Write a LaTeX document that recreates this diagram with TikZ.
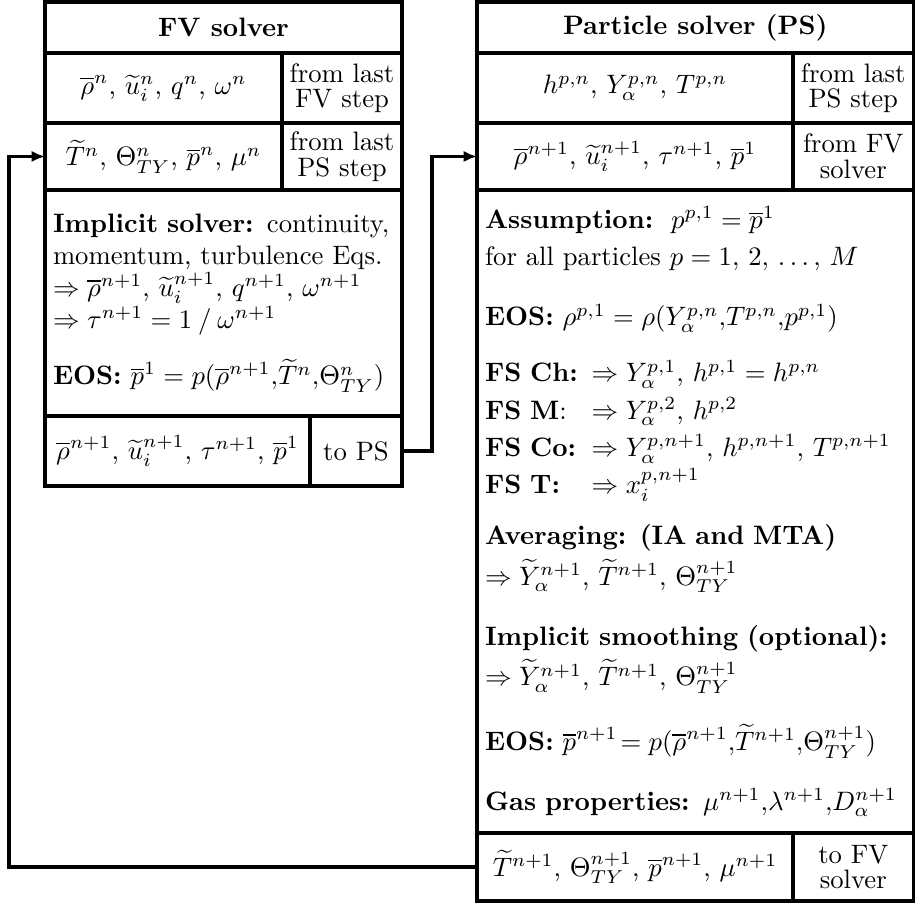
\documentclass[tikz,border=0pt]{standalone}
\usepackage{amsmath}
\usepackage{tikz}
\usetikzlibrary{arrows.meta}

\tikzset{
  cell/.style 2 args={draw, line width=1.3pt, anchor=north west, inner sep=0pt, outer sep=0pt,
    minimum width=#1*0.375pt, minimum height=#2*0.375pt, align=center},
  tag/.style={font=\linespread{0.8}\selectfont},
  body/.style={align=left, inner xsep=3pt, text width=#1*0.375pt-6pt},
  flow/.style={line width=1.3pt, -{Latex[length=5pt,width=4.2pt]}},
}
\newcommand{\fslabel}[1]{\makebox[40pt][l]{#1}}

\begin{document}
\begin{tikzpicture}[x=0.375pt, y=-0.375pt]
    \useasboundingbox (0,0) rectangle (915,907);
    % FV solver
    \node[cell={357}{51}] (fvhead) at (45,2) {\textbf{FV solver}};
    \node[cell={237}{70}] (fvin1) at (45,53) {$\overline{\rho}^n$, $\widetilde{u}_i^n$, $q^n$, $\omega^n$};
    \node[cell={120}{70}, tag] (fvsrc1) at (282,53) {from last\\FV step};
    \node[cell={237}{67}] (fvin2) at (45,123) {$\widetilde{T}^n$, $\Theta_{TY}^n$, $\overline{p}^n$, $\mu^n$};
    \node[cell={120}{67}, tag] (fvsrc2) at (282,123) {from last\\PS step};
    \node[cell={357}{226}, body=357] (fvbody) at (45,190) {%
      \textbf{Implicit solver:} continuity,\\
      momentum, turbulence Eqs.\\
      $\Rightarrow \overline{\rho}^{n+1}$, $\widetilde{u}_i^{n+1}$, $q^{n+1}$, $\omega^{n+1}$\\
      $\Rightarrow \tau^{n+1} = 1 \mathbin{/} \omega^{n+1}$\\[8pt]
      \textbf{EOS:} $\overline{p}^1 = p(\overline{\rho}^{n+1}{,}\widetilde{T}^n{,}\Theta_{TY}^n)$};
    \node[cell={265}{70}] (fvout) at (45,416) {$\overline{\rho}^{n+1}$, $\widetilde{u}_i^{n+1}$, $\tau^{n+1}$, $\overline{p}^1$};
    \node[cell={92}{70}] (fvdest) at (310,416) {to PS};

    % particle solver
    \node[cell={436.5}{51}] (pshead) at (477,2) {\textbf{Particle solver (PS)}};
    \node[cell={316}{70}] (psin1) at (477,53) {$h^{p,n}$, $Y_\alpha^{p,n}$, $T^{p,n}$};
    \node[cell={120.5}{70}, tag] (pssrc1) at (793,53) {from last\\PS step};
    \node[cell={316}{67}] (psin2) at (477,123) {$\overline{\rho}^{n+1}$, $\widetilde{u}_i^{n+1}$, $\tau^{n+1}$, $\overline{p}^1$};
    \node[cell={120.5}{67}, tag] (pssrc2) at (793,123) {from FV\\solver};
    \node[cell={436.5}{643}, body=436.5] (psbody) at (477,190) {%
      \textbf{Assumption:}\ \ $p^{p,1} = \overline{p}^1$\\[2pt]
      for all particles $p = 1,\,2,\,\ldots,\,M$\\[10.5pt]
      \textbf{EOS:} $\rho^{p,1} = \rho(Y_\alpha^{p,n}{,}T^{p,n}{,}p^{p,1})$\\[9pt]
      \fslabel{\textbf{FS Ch:}}$\Rightarrow Y_\alpha^{p,1}$, $h^{p,1} = h^{p,n}$\\[2pt]
      \fslabel{\textbf{FS M}:}$\Rightarrow Y_\alpha^{p,2}$, $h^{p,2}$\\[2pt]
      \fslabel{\textbf{FS Co:}}$\Rightarrow Y_\alpha^{p,n+1}$, $h^{p,n+1}$, $T^{p,n+1}$\\[2pt]
      \fslabel{\textbf{FS T:}}$\Rightarrow x_i^{p,n+1}$\\[7pt]
      \textbf{Averaging: (IA and MTA)}\\[2pt]
      $\Rightarrow \widetilde{Y}_\alpha^{n+1}$, $\widetilde{T}^{n+1}$, $\Theta_{TY}^{n+1}$\\[10.5pt]
      \textbf{Implicit smoothing (optional):}\\[2pt]
      $\Rightarrow \widetilde{Y}_\alpha^{n+1}$, $\widetilde{T}^{n+1}$, $\Theta_{TY}^{n+1}$\\[10.5pt]
      \textbf{EOS:} $\overline{p}^{n+1}\!= p(\overline{\rho}^{n+1}{,}\widetilde{T}^{n+1}{,}\Theta_{TY}^{n+1})$\\[10.5pt]
      \textbf{Gas properties:} $\mu^{n+1}{,}\lambda^{n+1}{,}D_\alpha^{n+1}$};
    \node[cell={316}{68}] (psout) at (477,833) {$\widetilde{T}^{n+1}$, $\Theta_{TY}^{n+1}$, $\overline{p}^{n+1}$, $\mu^{n+1}$};
    \node[cell={120.5}{68}, tag] (psdest) at (793,833) {to FV\\solver};

    % connectors
    \coordinate (midrail) at (432,0);
    \coordinate (leftrail) at (9,0);
    \draw[flow] (fvdest.east) -- (fvdest.east -| midrail) |- (psin2.west);
    \draw[flow] (psout.west) -- (psout.west -| leftrail) |- (fvin2.west);
\end{tikzpicture}
\end{document}
